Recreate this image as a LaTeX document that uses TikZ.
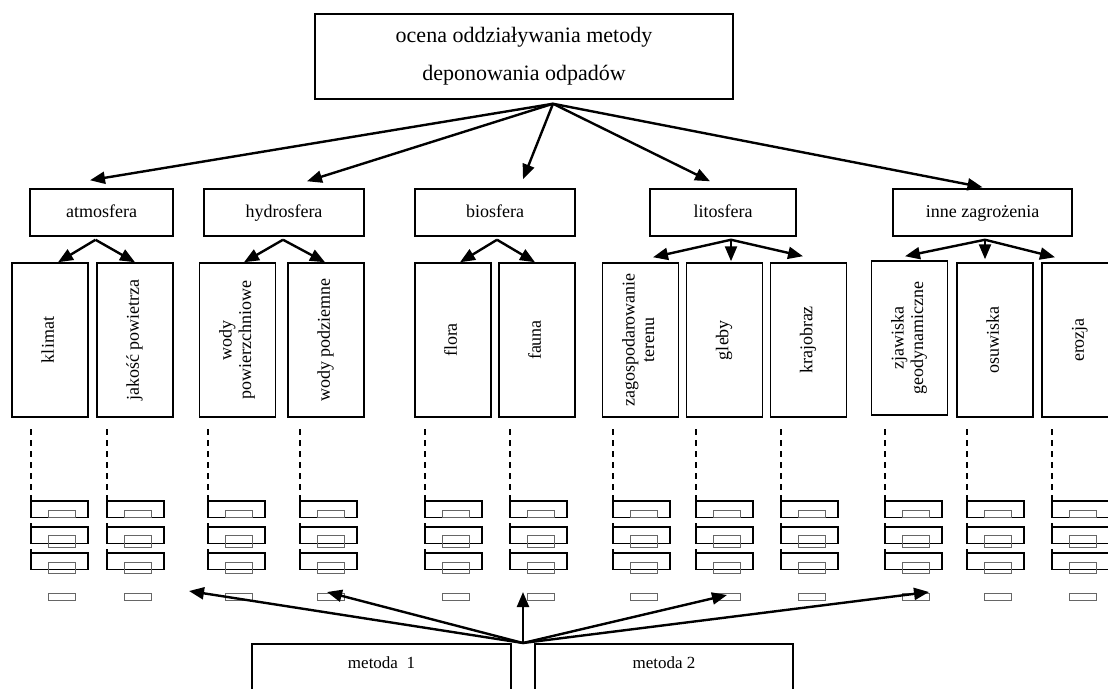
\documentclass[tikz,border=0pt]{standalone}
\usepackage{fontspec}
\setmainfont{Liberation Serif}
\usepackage{graphicx}
\usetikzlibrary{arrows.meta,calc}

\newcommand{\vtext}[1]{\rotatebox{90}{\begin{tabular}{@{}c@{}}#1\end{tabular}}}

\tikzset{
  box/.style={draw, line width=1.5pt, inner sep=0pt},
  mainbox/.style={box, minimum width=418pt, minimum height=85pt, align=center, font=\fontsize{22}{38}\selectfont},
  sphbox/.style={box, minimum height=47pt, text height=13pt, text depth=4pt, font=\fontsize{18}{20}\selectfont},
  cellbox/.style={box, minimum width=76pt, minimum height=154pt, font=\fontsize{18}{19.5}\selectfont},
  method/.style={box, anchor=north, text height=25pt, text depth=32pt, font=\fontsize{17}{20}\selectfont},
  arr/.style={-{Triangle[length=15pt,width=12pt]}, line width=2.4pt},
  stackbox/.style={line width=1.8pt},
  slot/.style={line width=1pt, black!60},
  trail/.style={line width=1.5pt, dash pattern=on 6pt off 5pt},
}

\begin{document}
\begin{tikzpicture}[x=1pt, y=-1pt]
    \useasboundingbox (0,0) rectangle (1108,688);

    % top
    \node[mainbox] (top) at (524,56.5) {ocena oddziaływania metody\\deponowania odpadów};

    % spheres
    \node[sphbox, minimum width=143pt] (atm) at (101.5,212.5) {atmosfera};
    \node[sphbox, minimum width=160pt] (hyd) at (284,212.5) {hydrosfera};
    \node[sphbox, minimum width=160pt] (bio) at (495,212.5) {biosfera};
    \node[sphbox, minimum width=146pt] (lit) at (723,212.5) {litosfera};
    \node[sphbox, minimum width=179pt] (inne) at (982.5,212.5) {inne zagrożenia};

    % elements
    \node[cellbox] (klimat) at (50,340) {\vtext{klimat}};
    \node[cellbox] (jakosc) at (135,340) {\vtext{jakość powietrza}};
    \node[cellbox] (wpow) at (237.5,340) {\vtext{wody\\powierzchniowe}};
    \node[cellbox] (wpod) at (326,340) {\vtext{wody podziemne}};
    \node[cellbox] (flora) at (453,340) {\vtext{flora}};
    \node[cellbox] (fauna) at (537,340) {\vtext{fauna}};
    \node[cellbox] (zagosp) at (640.5,340) {\vtext{zagospodarowanie\\terenu}};
    \node[cellbox] (gleby) at (724.5,340) {\vtext{gleby}};
    \node[cellbox] (krajobraz) at (808.5,340) {\vtext{krajobraz}};
    \node[cellbox] (zjaw) at (909.5,338) {\vtext{zjawiska\\geodynamiczne}};
    \node[cellbox] (osuw) at (995,340) {\vtext{osuwiska}};
    \node[cellbox] (erozja) at (1080,340) {\vtext{erozja}};

    % arrows top -> spheres
    \coordinate (src) at ($(top.south)+(29,4)$);
    \foreach \n/\dx/\dy in {atm/-11.5/-8, hyd/23/-7, bio/28/-9, lit/-13/-7, inne/0/-1}
        \draw[arr] (src) -- ($(\n.north)+(\dx,\dy)$);

    % arrows spheres -> elements
    \foreach \p/\o/\c/\dx/\dy in {atm/-6/klimat/8/0, atm/-6/jakosc/0/0, hyd/-1/wpow/6.5/0, hyd/-1/wpod/-1/0,
        bio/2/flora/7/0, bio/2/fauna/-2/0, lit/8/zagosp/12.5/-5, lit/8/gleby/6.5/-1, lit/8/krajobraz/-5.5/-6,
        inne/2.5/zjaw/-4.5/-4, inne/2.5/osuw/-10/-3, inne/2.5/erozja/-25/-5}
        \draw[arr] ($(\p.south)+(\o,3)$) -- ($(\c.north)+(\dx,\dy)$);

    % stacks of indicators
    \foreach \x in {31,107,208,300,425,510,613,696,781,885,967,1052} {
        \draw[trail] (\x,429) -- (\x,501);
        \foreach \t/\s/\h in {501/510/7, 527/535/12, 553/562/11} {
            \draw[stackbox] (\x,\t-4) -- (\x,\t);
            \draw[stackbox] (\x,\t) rectangle ++(57,16.5);
            \draw[slot] (\x+17,\s) rectangle ++(27,\h);
        }
        \draw[slot] (\x+17,593) rectangle ++(27,7);
    }

    % methods
    \node[method, minimum width=259pt] (m1) at (381.5,643) {metoda\ \ 1};
    \node[method, minimum width=258pt] (m2) at (664,643) {metoda 2};
    \coordinate (base) at ($(m1.north east)!0.5!(m2.north west)$);
    \coordinate (t1) at (189,591);
    \coordinate (t2) at (327,592);
    \coordinate (t3) at (523,592);
    \coordinate (t4) at (727,595);
    \coordinate (t5) at (929,592);
    \foreach \t in {t1,t2,t3,t4,t5}
        \draw[arr] (base) -- (\t);
\end{tikzpicture}
\end{document}
